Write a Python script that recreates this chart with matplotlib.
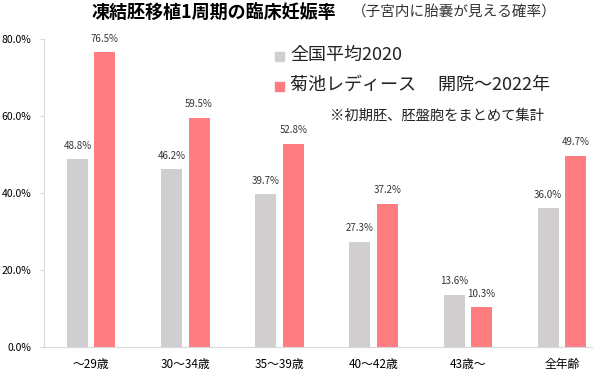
import matplotlib
matplotlib.use("Agg")
import matplotlib.pyplot as plt
import numpy as np

plt.rcParams['font.family'] = ['Noto Sans CJK JP', 'DejaVu Sans']

categories = ["〜29歳", "30〜34歳", "35〜39歳", "40〜42歳", "43歳〜", "全年齢"]
national = [48.8, 46.2, 39.7, 27.3, 13.6, 36.0]
kikuchi = [76.5, 59.5, 52.8, 37.2, 10.3, 49.7]
yticks = [0, 20, 40, 60, 80]

gray = "#D0CECE"
pink = "#FF7C80"

fig = plt.figure(figsize=(5.93, 3.79), dpi=100)
ax = fig.add_axes([44/593, 1-347/379, (593-44)/593, (347-39)/379])

x = np.arange(len(categories))
w = 0.223
off = 0.146
ax.bar(x - off, national, w, color=gray)
ax.bar(x + off, kikuchi, w, color=pink)
for i in range(len(categories)):
    ax.text(x[i]-off, national[i]+2.2, f"{national[i]:.1f}%", ha='center', va='bottom', fontsize=7, color="#333333")
    ax.text(x[i]+off, kikuchi[i]+2.2, f"{kikuchi[i]:.1f}%", ha='center', va='bottom', fontsize=7, color="#333333")

ax.set_xlim(-0.5, 5.33)
ax.set_ylim(0, 80)
ax.set_yticks(yticks)
ax.set_yticklabels([f"{v:.1f}%" for v in yticks], fontsize=7.5)
ax.set_xticks(x)
ax.set_xticklabels(categories, fontsize=8.5)
ax.tick_params(axis='x', length=0, pad=8)
ax.tick_params(axis='y', length=3, color="#D9D9D9", pad=6)
for s in ['top', 'right']:
    ax.spines[s].set_visible(False)
ax.spines['left'].set_color("#D9D9D9")
ax.spines['bottom'].set_color("#D9D9D9")

fig.text(92/593, 1-12/379, "凍結胚移植1周期の臨床妊娠率", fontsize=13, fontweight='bold', va='center', ha='left')
fig.text(352/593, 1-12/379, "（子宮内に胎嚢が見える確率）", fontsize=10.5, va='center', ha='left', color="#333333")

# legend
fig.patches.append(matplotlib.patches.Rectangle((275/593, 1-61/379), 9/593, 9/379, color=gray, transform=fig.transFigure))
fig.patches.append(matplotlib.patches.Rectangle((275/593, 1-91/379), 9/593, 9/379, color=pink, transform=fig.transFigure))
fig.text(290/593, 1-55/379, "全国平均2020", fontsize=13, va='center', ha='left', color="#222222")
fig.text(290/593, 1-85/379, "菊池レディース　 開院〜2022年", fontsize=13, va='center', ha='left', color="#222222")
fig.text(330/593, 1-116/379, "※初期胚、胚盤胞をまとめて集計", fontsize=10.3, va='center', ha='left', color="#222222")

fig.savefig("out.png", dpi=100)
